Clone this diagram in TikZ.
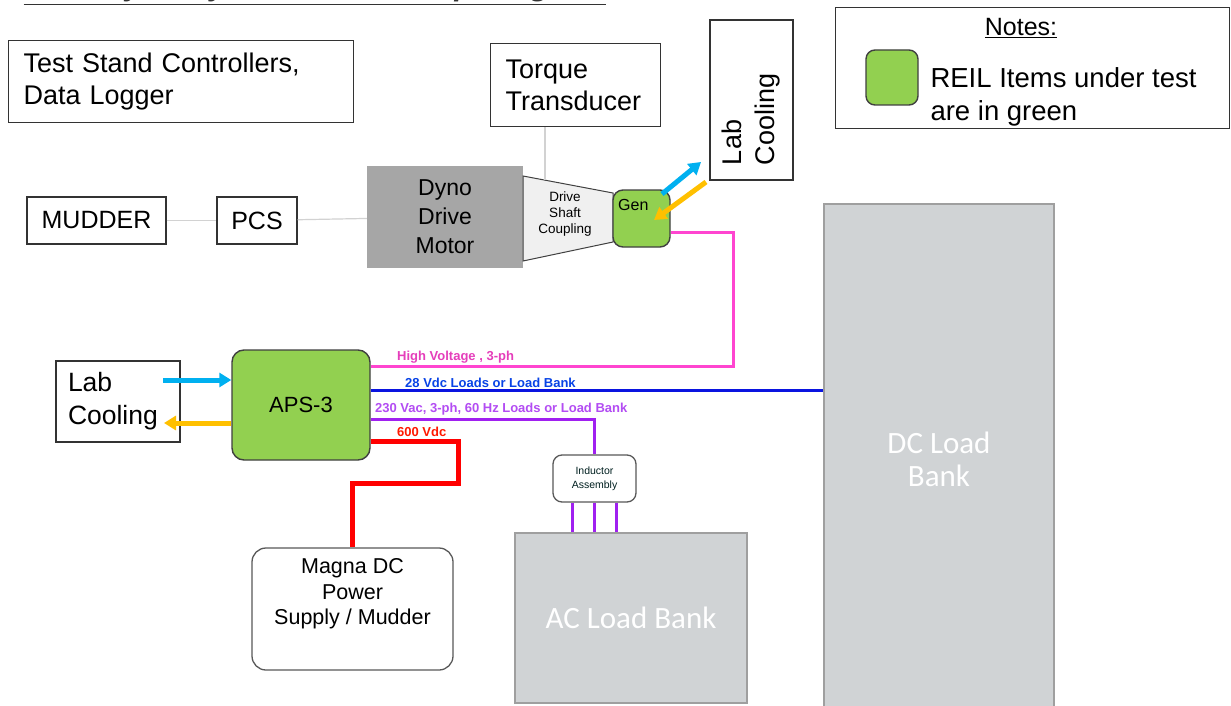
\documentclass[tikz,border=0pt]{standalone}
\usepackage{fontspec}
\setmainfont{Liberation Sans}
\newfontfamily\calfont{Carlito}
\usetikzlibrary{arrows.meta}
\definecolor{reilgreen}{HTML}{92D050}
\definecolor{dynogray}{HTML}{A6A6A6}
\definecolor{loadgray}{HTML}{D0D3D5}
\definecolor{hvpink}{HTML}{FF45D0}
\definecolor{dcblue}{HTML}{0A14E0}
\definecolor{acpurple}{HTML}{A020F0}
\definecolor{coolblue}{HTML}{00B0F0}
\definecolor{warmorange}{HTML}{FFC000}
\newcommand{\sz}[2]{\fontsize{#1}{#2}\selectfont}
\begin{document}
\begin{tikzpicture}[x=1pt,y=-1pt,
		box/.style={draw=black!80, line width=1.3pt, fill=white},
		greenbox/.style={draw=black!75, line width=1.4pt, fill=reilgreen, rounded corners=10pt},
		softbox/.style={draw=black!65, line width=1.3pt, fill=white, rounded corners=12pt},
		loadbox/.style={draw=gray!75, line width=2pt, fill=loadgray, text=white, font=\calfont\sz{31}{33}},
		link/.style={draw=gray!35, line width=1.2pt},
		wire/.style={line width=3pt},
		tag/.style={font=\bfseries\sz{13}{15}, inner sep=0pt, anchor=west},
		coolarrow/.style={line width=5pt, -{Triangle[length=12pt,width=14pt]}}]
	\fill[white] (0,0) rectangle (1231,706);
	\useasboundingbox (0,0) rectangle (1231,706);
	\node[anchor=base west, text=black!80, font=\bfseries\itshape\sz{31}{34}] (title) at (20,-4) {\underline{REIL Dyno System/ Test Setup Diagram}};
	\node[box, anchor=north west, minimum width=345, minimum height=82, text width=315, align=left, font=\sz{27}{32}] (ctrl) at (8,40) {Test Stand Controllers,\\Data Logger};
	\node[box, anchor=north west, minimum width=170, minimum height=83, text width=140, align=left, font=\sz{27}{32}] (torque) at (490,43) {Torque\\Transducer};
	\node[box, rotate=90, minimum width=160, minimum height=83, text width=130, align=left, font=\sz{27}{33}] (labtop) at (751.5,100) {Lab\\Cooling};
	\node[box, anchor=north west, minimum width=394, minimum height=121] (notes) at (835,7) {};
	\node[font=\sz{25}{28}] (noteshead) at (1021,28) {\underline{Notes:}};
	\node[greenbox, minimum width=52, minimum height=55, rounded corners=9pt] (sample) at (892,77.5) {};
	\node[anchor=west, align=left, font=\sz{27.5}{33}] (notetext) at (927,97) {REIL Items under test\\are in green};
	\node[box, minimum width=139, minimum height=47, font=\sz{25}{28}] (mudder) at (96.5,220.5) {MUDDER};
	\node[box, minimum width=80, minimum height=47, font=\sz{25}{28}] (pcs) at (257,220.5) {PCS};
	\node[fill=dynogray, minimum width=156, minimum height=102, align=center, font=\sz{23}{29}] (dyno) at (445,217) {Dyno\\Drive\\Motor};
	\draw[link] (mudder) -- (pcs);
	\draw[link] (pcs) -- (dyno);
	\draw[draw=black!75, fill=gray!12, line width=1pt] (523,176) -- (613,193) -- (613,242) -- (523,261) -- cycle;
	\node[align=center, font=\sz{13.5}{16}] (coupling) at (565,214) {Drive\\Shaft\\Coupling};
	\coordinate (shaft) at (545,180);
	\draw[link] (shaft |- torque.south) -- (shaft);
	\node[greenbox, minimum width=57, minimum height=57] (gen) at (641.5,218.5) {};
	\node[anchor=north west, inner sep=0pt, font=\sz{16}{18}] (genlbl) at (618,199) {Gen};
	\coordinate (genout) at (701,162);
	\coordinate (genin) at (706,182);
	\draw[coolarrow, coolblue] (662,194) -- (genout);
	\draw[coolarrow, warmorange] (genin) -- (654,220);
	\node[greenbox, minimum width=138, minimum height=110, rounded corners=12pt, font=\sz{22}{25}] (aps) at (301,405) {APS-3};
	\node[box, minimum width=124, minimum height=81, text width=100, align=left, font=\sz{26.5}{33}] (lableft) at (118,401.5) {Lab\\Cooling};
	\coordinate (lcin) at (163,380);
	\coordinate (lcout) at (164,423);
	\draw[coolarrow, coolblue] (lcin) -- (aps.west |- lcin);
	\draw[coolarrow, warmorange] (aps.west |- lcout) -- (lcout);
	\node[loadbox, anchor=north west, minimum width=232, minimum height=170] (acload) at (514,532) {AC Load Bank};
	\node[loadbox, anchor=north west, minimum width=230, minimum height=510, align=center] (dcload) at (823,203) {DC Load\\Bank};
	\node[softbox, rounded corners=9pt, minimum width=83, minimum height=47, align=center, text=black!75!teal, font=\sz{10.5}{14}] (ind) at (594.5,478.5) {Inductor\\Assembly};
	\node[softbox, rounded corners=14pt, minimum width=201, minimum height=122] (magna) at (352.5,609) {};
	\node[anchor=north, align=center, font=\sz{21.5}{25.5}] (magnalbl) at ([yshift=-8pt]magna.north) {Magna DC\\Power\\Supply / Mudder};
	\draw[wire, hvpink] ([yshift=-13.5pt]gen.east) -| (733,366) -- (aps.east |- 0,366);
	\draw[wire, dcblue] (aps.east |- 0,390) -- (dcload.west |- 0,390);
	\draw[wire, acpurple] (aps.east |- 0,419) -| (ind.north);
	\draw[line width=5pt, red] (aps.east |- 0,441) -- (458,441) -- (458,483) -| (magna.north);
	\foreach \dx in {-22,0,22}
		\draw[wire, acpurple] ([xshift=\dx pt]ind.south) -- ([xshift=\dx pt]ind.south |- acload.north);
	\node[tag, text=hvpink!90!black] (hvtag) at (397,357) {High Voltage , 3-ph};
	\node[tag, text=dcblue!80!cyan] (dctag) at (405,383) {28 Vdc Loads or Load Bank};
	\node[tag, text=acpurple!80!white] (actag) at (375,409) {230 Vac, 3-ph, 60 Hz Loads or Load Bank};
	\node[tag, text=red!80!orange] (dvtag) at (397,432) {600 Vdc};
\end{tikzpicture}
\end{document}
